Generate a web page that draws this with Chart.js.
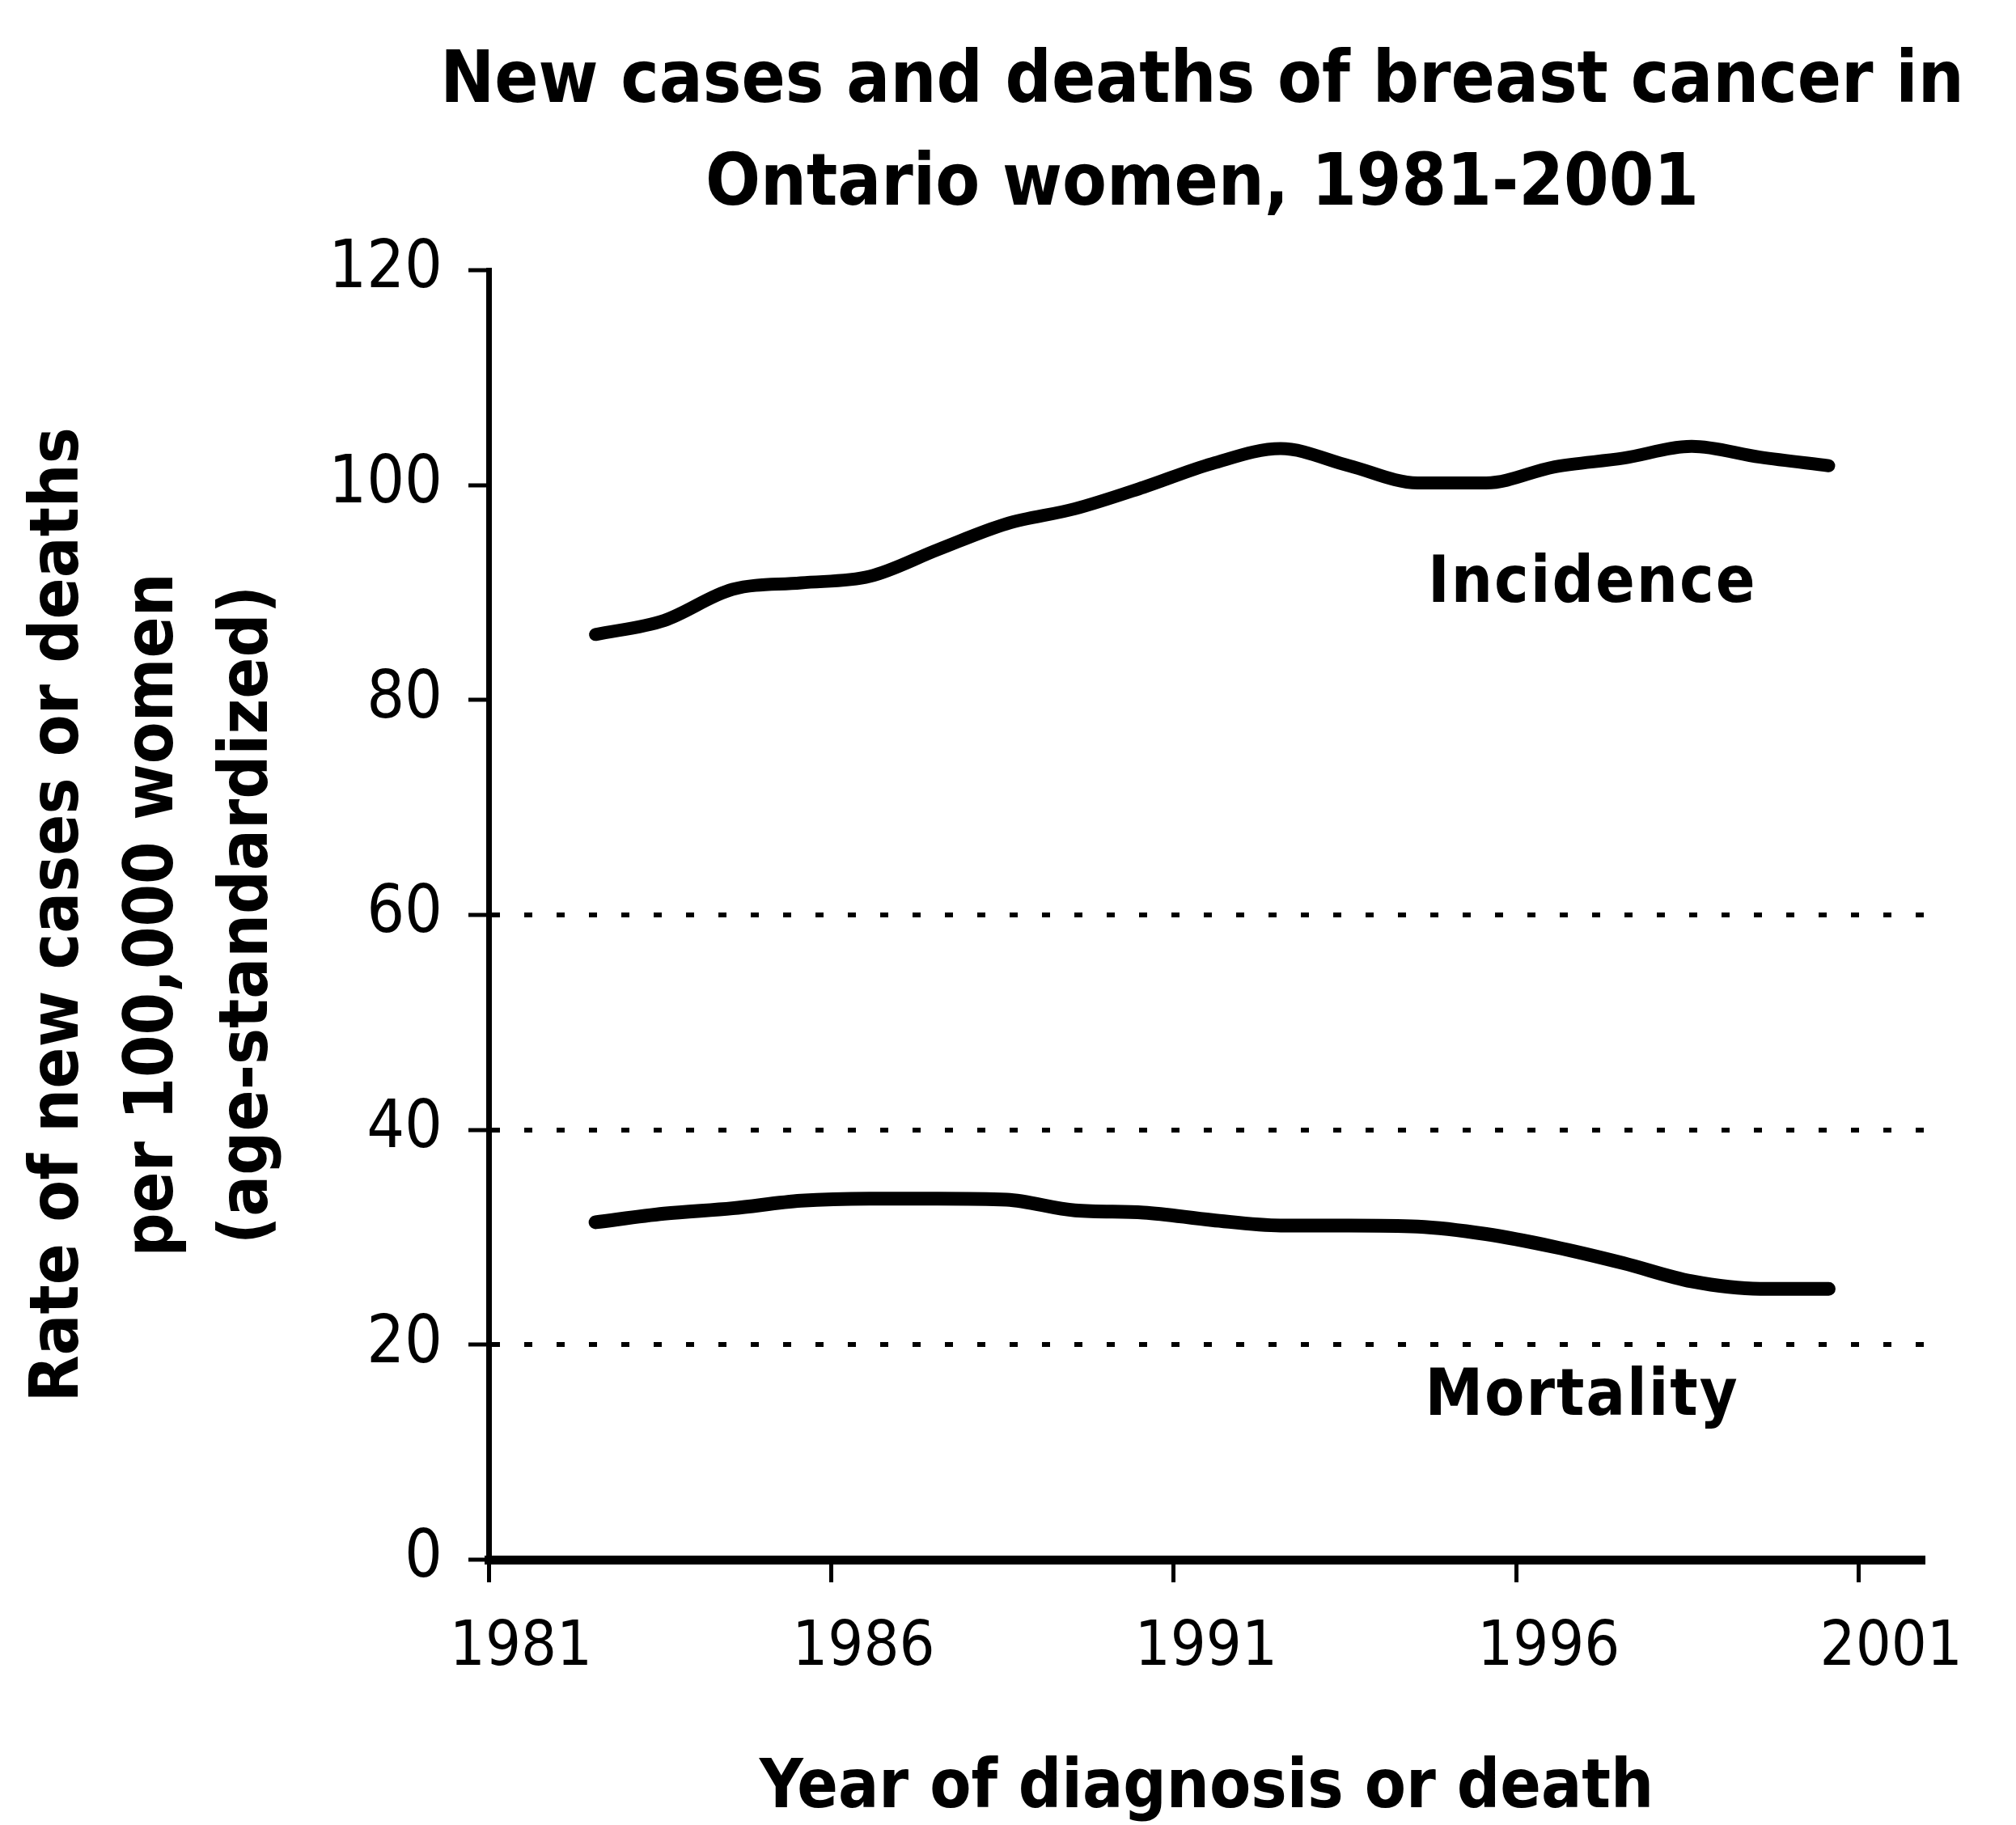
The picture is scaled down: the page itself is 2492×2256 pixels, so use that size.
<!DOCTYPE html>
<html>
<head>
<meta charset="utf-8">
<title>New cases and deaths of breast cancer in Ontario women</title>
<script src="https://cdn.jsdelivr.net/npm/chart.js@4.4.1/dist/chart.umd.min.js"></script>
<style>
  html, body { margin: 0; padding: 0; background: #fff; }
  #wrap { width: 2492px; height: 2256px; }
</style>
</head>
<body>
<div id="wrap"><canvas id="myChart" width="2492" height="2256"></canvas></div>
<script>
// values
const years = [1982, 1983, 1984, 1985, 1986, 1987, 1988, 1989, 1990, 1991,
  1992, 1993, 1994, 1995, 1996, 1997, 1998, 1999, 2000];
const incidence = [86.1, 87.4, 90.3, 90.9, 91.5, 94.0, 96.4, 97.8, 99.8, 102.0,
  103.4, 101.8, 100.2, 100.2, 101.7, 102.5, 103.6, 102.6, 101.8];
const mortality = [31.4, 32.2, 32.7, 33.4, 33.6, 33.6, 33.5, 32.5, 32.3, 31.6,
  31.1, 31.1, 31.0, 30.3, 29.1, 27.6, 25.9, 25.2, 25.2];

const tickYears = [1981, 1986, 1991, 1996, 2001];
const yTicks = [0, 20, 40, 60, 80, 100, 120];
const gridValues = [20, 40, 60];

const titleLines = ["New cases and deaths of breast cancer in", "Ontario women, 1981-2001"];
const yTitleLines = ["Rate of new cases or deaths", "per 100,000 women", "(age-standardized)"];
const xTitle = "Year of diagnosis or death";
const seriesNames = ["Incidence", "Mortality"];

const FONT = '"DejaVu Sans Condensed", "Liberation Sans", sans-serif';
const tickShift = -0.56; // excel puts the year ticks a bit left of the points

const ctx = document.getElementById("myChart").getContext("2d");

// two line title, centred over the plot (not the canvas)
const bigTitle = {
  id: "bigTitle",
  afterDraw(chart, args, opts) {
    const c = chart.ctx;
    c.save();
    c.fillStyle = "#000";
    c.font = "bold " + opts.size + "px " + FONT;
    c.textAlign = "center";
    c.textBaseline = "alphabetic";
    opts.lines.forEach((line, i) => {
      c.fillText(line, opts.x, opts.baselines[i]);
    });
    c.restore();
  },
};

// "Incidence" / "Mortality" written next to the lines
const lineLabels = {
  id: "lineLabels",
  afterDatasetsDraw(chart, args, opts) {
    const x = chart.scales.x;
    const y = chart.scales.y;
    const c = chart.ctx;
    c.save();
    c.fillStyle = "#000";
    c.font = "bold " + opts.size + "px " + FONT;
    c.letterSpacing = opts.spacing + "px";
    c.textAlign = "center";
    c.textBaseline = "alphabetic";
    opts.items.forEach((it) => {
      c.fillText(it.text, x.getPixelForValue(it.x), y.getPixelForValue(it.y));
    });
    c.restore();
  },
};

new Chart(ctx, {
  type: "line",
  data: {
    datasets: [
      {
        label: seriesNames[0],
        data: years.map((yr, i) => ({ x: yr, y: incidence[i] })),
        borderColor: "#000",
        borderWidth: 16,
        borderCapStyle: "round",
        borderJoinStyle: "round",
        pointRadius: 0,
        cubicInterpolationMode: "monotone",
        fill: false,
      },
      {
        label: seriesNames[1],
        data: years.map((yr, i) => ({ x: yr, y: mortality[i] })),
        borderColor: "#000",
        borderWidth: 17,
        borderCapStyle: "round",
        borderJoinStyle: "round",
        pointRadius: 0,
        cubicInterpolationMode: "monotone",
        fill: false,
      },
    ],
  },
  options: {
    responsive: false,
    animation: false,
    layout: { padding: { left: 0, right: 113, top: 334, bottom: 0 } },
    plugins: {
      legend: { display: false },
      tooltip: { enabled: false },
      title: { display: false },
      bigTitle: {
        lines: titleLines,
        size: 89,
        x: 1486,
        baselines: [126, 253],
      },
      lineLabels: {
        size: 80,
        spacing: 2,
        items: [
          { text: seriesNames[0], x: 1996.55, y: 89.1 },
          { text: seriesNames[1], x: 1996.4, y: 13.5 },
        ],
      },
    },
    scales: {
      x: {
        type: "linear",
        min: tickYears[0] + tickShift,
        max: 2001.4,
        afterBuildTicks: (axis) => {
          axis.ticks = tickYears.map((yr) => ({ value: yr + tickShift }));
        },
        afterFit: (axis) => {
          axis.height = 2256 - 1928;
        },
        ticks: {
          color: "#000",
          font: { family: FONT, size: 77 },
          padding: 36,
          labelOffset: 40,
          maxRotation: 0,
          autoSkip: false,
          callback: (value) => String(Math.round(value - tickShift)),
        },
        grid: {
          display: true,
          drawOnChartArea: false,
          drawTicks: true,
          tickLength: 28,
          tickWidth: 5,
          tickColor: "#000",
        },
        border: { display: true, color: "#000", width: 11 },
        title: {
          display: true,
          text: xTitle,
          color: "#000",
          font: { family: FONT, size: 83, weight: "bold", lineHeight: 1.0 },
          padding: { top: 0, bottom: 2 },
        },
      },
      y: {
        min: 0,
        max: 120,
        afterBuildTicks: (axis) => {
          axis.ticks = yTicks.map((v) => ({ value: v }));
        },
        afterFit: (axis) => {
          axis.width = 604;
        },
        ticks: {
          color: "#000",
          font: { family: FONT, size: 82 },
          padding: 32,
        },
        grid: {
          drawTicks: true,
          tickLength: 25,
          tickWidth: 5,
          tickColor: "#000",
          lineWidth: 6,
          color: (c) => (c.tick && gridValues.includes(c.tick.value) ? "#000" : "rgba(0,0,0,0)"),
        },
        border: { display: true, color: "#000", width: 7, dash: [10, 30] },
        title: {
          display: true,
          text: yTitleLines,
          color: "#000",
          font: { family: FONT, size: 84, weight: "bold", lineHeight: 1.39 },
          padding: { top: 16, bottom: 0 },
        },
      },
    },
  },
  plugins: [lineLabels, bigTitle],
});
</script>
</body>
</html>
